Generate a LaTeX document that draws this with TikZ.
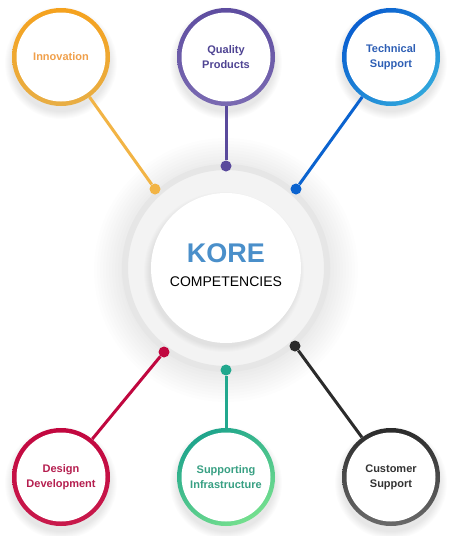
\documentclass[tikz,border=0pt]{standalone}
\usepackage{fontspec}
\setmainfont{Liberation Sans}
\definecolor{orA}{HTML}{F5A21E}\definecolor{orB}{HTML}{E8AE45}\definecolor{orL}{HTML}{F2B445}\definecolor{orT}{HTML}{F0A04B}
\definecolor{puA}{HTML}{5E4DA0}\definecolor{puB}{HTML}{7A6AB2}\definecolor{puL}{HTML}{5A4A9C}\definecolor{puT}{HTML}{4F4493}
\definecolor{blA}{HTML}{0A5FD0}\definecolor{blB}{HTML}{30A6DC}\definecolor{blL}{HTML}{0B63CF}\definecolor{blT}{HTML}{2E5FB5}
\definecolor{crA}{HTML}{C2073F}\definecolor{crB}{HTML}{C81A4C}\definecolor{crL}{HTML}{C0073F}\definecolor{crT}{HTML}{B51E4F}
\definecolor{teA}{HTML}{1FA58C}\definecolor{teB}{HTML}{74DF8E}\definecolor{teL}{HTML}{22A88E}\definecolor{teT}{HTML}{38A083}
\definecolor{dkA}{HTML}{2B2B2B}\definecolor{dkB}{HTML}{6A6A6A}\definecolor{dkL}{HTML}{2B2B2B}\definecolor{dkT}{HTML}{333333}
\definecolor{koreblue}{HTML}{4A8FCA}
\definecolor{ringgray}{HTML}{E6E6E6}
\definecolor{bandgray}{HTML}{F3F3F3}
\begin{document}
\begin{tikzpicture}[x=1pt,y=-1pt,
  ringnode/.style={circle, minimum size=98pt, inner sep=0pt},
  facenode/.style={circle, fill=white, minimum size=89pt, inner sep=0pt, align=center,
    font=\bfseries\fontsize{11}{15}\selectfont},
  dotnode/.style={circle, inner sep=0pt, minimum size=11pt},
  conn/.style={line width=3pt}]
\useasboundingbox[fill=white] (0,0) rectangle (450,536);
% soft glow around the central ring
\foreach \r in {132,129,...,104} \fill[black, opacity=0.007] (226,270) circle (\r);
% shadows of the satellites
\foreach \cx/\cy in {61/57,226/57,391/57,61/477,226/477,391/477}
  \foreach \i in {0,...,7} \fill[black, opacity=0.012] (\cx,\cy+6) circle (49+\i);
% central ring
\node[circle, fill=bandgray, draw=ringgray, line width=6pt, minimum size=202pt, inner sep=0pt] (ring) at (226,268) {};
\foreach \i in {0,...,5} \fill[black, opacity=0.012] (224,272) circle (75+\i);
\node[circle, fill=white, minimum size=150pt, inner sep=0pt, align=center] (core) at (226,268) {};
\node[text=koreblue, font=\bfseries\fontsize{27}{28}\selectfont] (kore) at (226,253) {KORE};
\node[font=\fontsize{14}{16}\selectfont, text=black] (comp) at (226,282) {COMPETENCIES};
% satellites
\node[ringnode, top color=orA, bottom color=orB] (innov) at (61,57) {};
\node[facenode, text=orT] at (innov) {Innovation};
\node[ringnode, top color=puA, bottom color=puB] (qual) at (226,57) {};
\node[facenode, text=puT] at (qual) {Quality\\Products};
\node[ringnode, top color=blA, bottom color=blB, shading angle=45] (tech) at (391,57) {};
\node[facenode, text=blT] at (tech) {Technical\\Support};
\node[ringnode, top color=crA, bottom color=crB] (design) at (61,477) {};
\node[facenode, text=crT] at (design) {Design\\Development};
\node[ringnode, top color=teA, bottom color=teB, shading angle=30] (supp) at (226,477) {};
\node[facenode, text=teT] at (supp) {Supporting\\Infrastructure};
\node[ringnode, top color=dkA, bottom color=dkB] (cust) at (391,477) {};
\node[facenode, text=dkT] at (cust) {Customer\\Support};
% dots
\node[dotnode, fill=orL] (d1) at (155,189) {};
\node[dotnode, fill=puL] (d2) at (226,166) {};
\node[dotnode, fill=blL] (d3) at (296,189) {};
\node[dotnode, fill=crL] (d4) at (164,352) {};
\node[dotnode, fill=teL] (d5) at (226,370) {};
\node[dotnode, fill=dkL] (d6) at (295,346) {};
% connectors
\draw[conn, orL] (innov) -- (d1);
\draw[conn, puL] (qual) -- (d2);
\draw[conn, blL] (tech) -- (d3);
\draw[conn, crL] (design) -- (d4);
\draw[conn, teL] (supp) -- (d5);
\draw[conn, dkL] (cust) -- (d6);
\end{tikzpicture}
\end{document}
